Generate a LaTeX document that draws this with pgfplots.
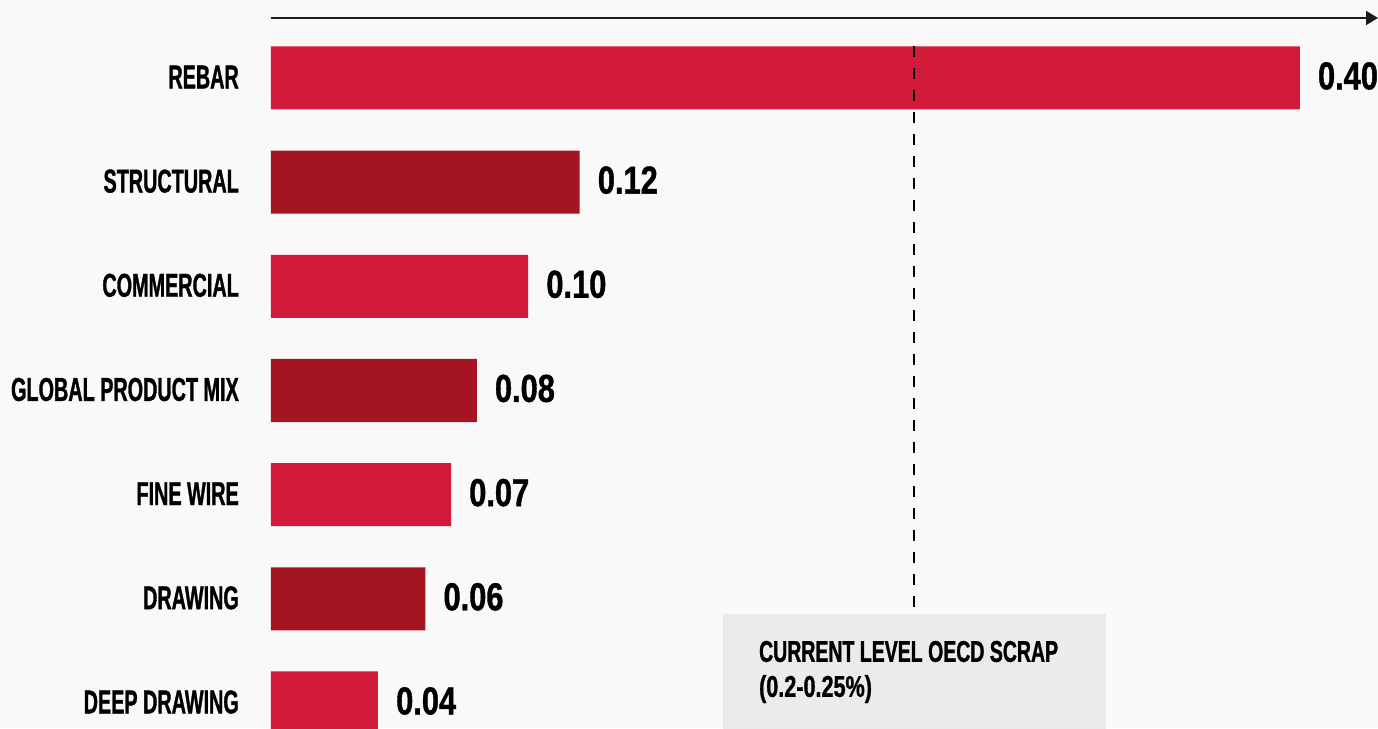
\documentclass[border=0pt]{standalone}
\usepackage{pgfplots}
\pgfplotsset{compat=1.18}
\usepackage{pgfplotstable}
\usetikzlibrary{arrows.meta}
\usepackage{fontspec}
\setmainfont{Liberation Sans}
\newfontfamily\lblfont{Liberation Sans}[FakeStretch=0.60, BoldFeatures={FakeBold=1}]
\newfontfamily\valfont{Liberation Sans}[FakeStretch=0.79, BoldFeatures={FakeBold=1}]
\newfontfamily\boxfont{Liberation Sans}[FakeStretch=0.65, BoldFeatures={FakeBold=1}]
\newfontfamily\boxnumfont{Liberation Sans}[FakeStretch=0.72, BoldFeatures={FakeBold=1}]

\definecolor{bg}{HTML}{F9F9F9}
\definecolor{lightred}{HTML}{D21B3A}
\definecolor{darkred}{HTML}{A51521}
\definecolor{boxgray}{HTML}{EBEBEB}
\definecolor{axisgray}{HTML}{1A1A1A}

% y = position from the bottom (0 = DEEP DRAWING, 6 = REBAR)
\pgfplotstableread{
y x
6 0.40
4 0.10
2 0.07
0 0.0416
}\lightdata
\pgfplotstableread{
y x
5 0.12
3 0.08
1 0.06
}\darkdata

\begin{document}
\begin{tikzpicture}
\path[use as bounding box, fill=bg] (0,0) rectangle (1378pt,728pt);
\begin{axis}[
  at={(271pt,0pt)}, anchor=south west,
  scale only axis, width=1107pt, height=710pt,
  xmin=0, xmax=0.4304, ymin=-0.24, ymax=6.576,
  enlargelimits=false,
  axis x line=top, axis y line=left,
  x axis line style={line width=1.8pt, color=axisgray, -{Triangle[length=12pt,width=14pt]}},
  y axis line style={draw=none},
  xtick=\empty,
  ytick={0,...,6},
  yticklabels={DEEP DRAWING, DRAWING, FINE WIRE, GLOBAL PRODUCT MIX, COMMERCIAL, STRUCTURAL, REBAR},
  major tick length=0pt,
  yticklabel style={anchor=east, inner sep=0pt, xshift=-32pt, yshift=1pt,
    font=\lblfont\bfseries\fontsize{33}{36}\selectfont},
  xbar, bar shift=0pt, bar width=0.605,
  point meta=x,
  nodes near coords,
  nodes near coords style={anchor=west, inner sep=0pt, xshift=18pt, yshift=2pt, text=black,
    font=\valfont\bfseries\fontsize{39}{44}\selectfont,
    /pgf/number format/.cd, fixed, fixed zerofill, precision=2, assume math mode=true},
]
\addplot[draw=none, fill=lightred] table[x=x, y=y] {\lightdata};
\addplot[draw=none, fill=darkred] table[x=x, y=y] {\darkdata};

\fill[boxgray] (axis cs:0.1757,-0.5) rectangle (axis cs:0.3246,0.856);
\draw[black, line width=1.5pt, dash pattern=on 11pt off 11pt]
  (axis cs:0.25,6.3025) -- (axis cs:0.25,0.856);
\node[anchor=base west, inner sep=0pt, xshift=36pt, yshift=-48pt,
  font=\boxfont\bfseries\fontsize{30}{35}\selectfont]
  at (axis cs:0.1757,0.856) {CURRENT LEVEL OECD SCRAP};
\node[anchor=base west, inner sep=0pt, xshift=36pt, yshift=-83pt,
  font=\boxnumfont\bfseries\fontsize{30}{35}\selectfont]
  at (axis cs:0.1757,0.856) {(0.2-0.25\%)};
\end{axis}
\end{tikzpicture}
\end{document}
